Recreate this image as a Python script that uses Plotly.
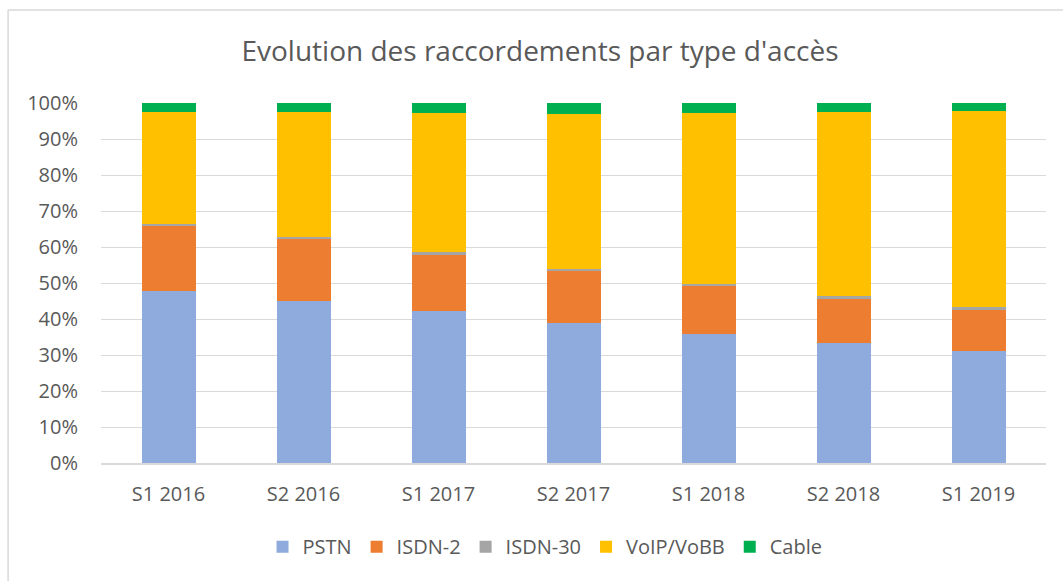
import plotly.graph_objects as go

categories = ["S1 2016", "S2 2016", "S1 2017", "S2 2017", "S1 2018", "S2 2018", "S1 2019"]
pstn = [47.7, 45.1, 42.3, 38.9, 35.8, 33.4, 31.2]
isdn2 = [18.0, 17.1, 15.6, 14.5, 13.3, 12.2, 11.2]
isdn30 = [0.7, 0.7, 0.7, 0.6, 0.6, 0.8, 0.8]
voip = [31.2, 34.5, 38.5, 42.9, 47.5, 51.2, 54.6]
cable = [2.4, 2.6, 2.9, 3.1, 2.8, 2.4, 2.2]

series = [
    ("PSTN", pstn, "#8FAADC"),
    ("ISDN-2", isdn2, "#ED7D31"),
    ("ISDN-30", isdn30, "#A5A5A5"),
    ("VoIP/VoBB", voip, "#FFC000"),
    ("Cable", cable, "#00B050"),
]

FONT = "Open Sans"
GREY = "#595959"

fig = go.Figure()
for name, vals, color in series:
    fig.add_trace(go.Bar(x=categories, y=vals, name=name,
                         marker=dict(color=color, line=dict(width=0))))

W, H = 1063, 581
L, R, T, B = 100.5, 1046.5, 103, 463.3

def px_x(p):
    return (p - L) / (R - L)

def px_y(p):
    return (B - p) / (B - T)

fig.update_layout(
    width=W, height=H,
    margin=dict(l=L, r=W - R, t=T, b=H - B, pad=0),
    barmode="stack", bargap=0.6,
    paper_bgcolor="white", plot_bgcolor="white",
    font=dict(family=FONT, color=GREY, size=20),
    title=dict(text="Evolution des raccordements par type d'accès",
               x=540 / W, xanchor="center", y=1 - 51 / H, yanchor="middle",
               font=dict(family=FONT, size=28, color=GREY)),
    showlegend=True,
    legend=dict(orientation="h", x=px_x(545), xanchor="center",
                y=px_y(547), yanchor="middle",
                font=dict(family=FONT, size=20, color=GREY),
                itemwidth=30, traceorder="normal"),
    yaxis=dict(range=[0, 100], dtick=10, ticksuffix="%", showgrid=True,
               gridcolor="#D9D9D9", gridwidth=1, zeroline=False,
               showline=False, ticks="", ticklabelstandoff=22,
               tickfont=dict(family=FONT, size=20, color=GREY),
               fixedrange=True),
    xaxis=dict(showline=True, linecolor="#D9D9D9", linewidth=1.5, ticks="",
               ticklabelstandoff=12,
               tickfont=dict(family=FONT, size=20, color=GREY),
               fixedrange=True),
    shapes=[
        dict(type="line", xref="paper", yref="paper",
             x0=px_x(7.5), x1=px_x(7.5), y0=px_y(10), y1=px_y(590),
             line=dict(color="#D9D9D9", width=1.5)),
        dict(type="line", xref="paper", yref="paper",
             x0=px_x(7.5), x1=px_x(1070), y0=px_y(10), y1=px_y(10),
             line=dict(color="#D9D9D9", width=1.5)),
    ],
)

fig.write_html("out.html", config={"displayModeBar": False},
               post_script="document.body.style.margin='0px';")
